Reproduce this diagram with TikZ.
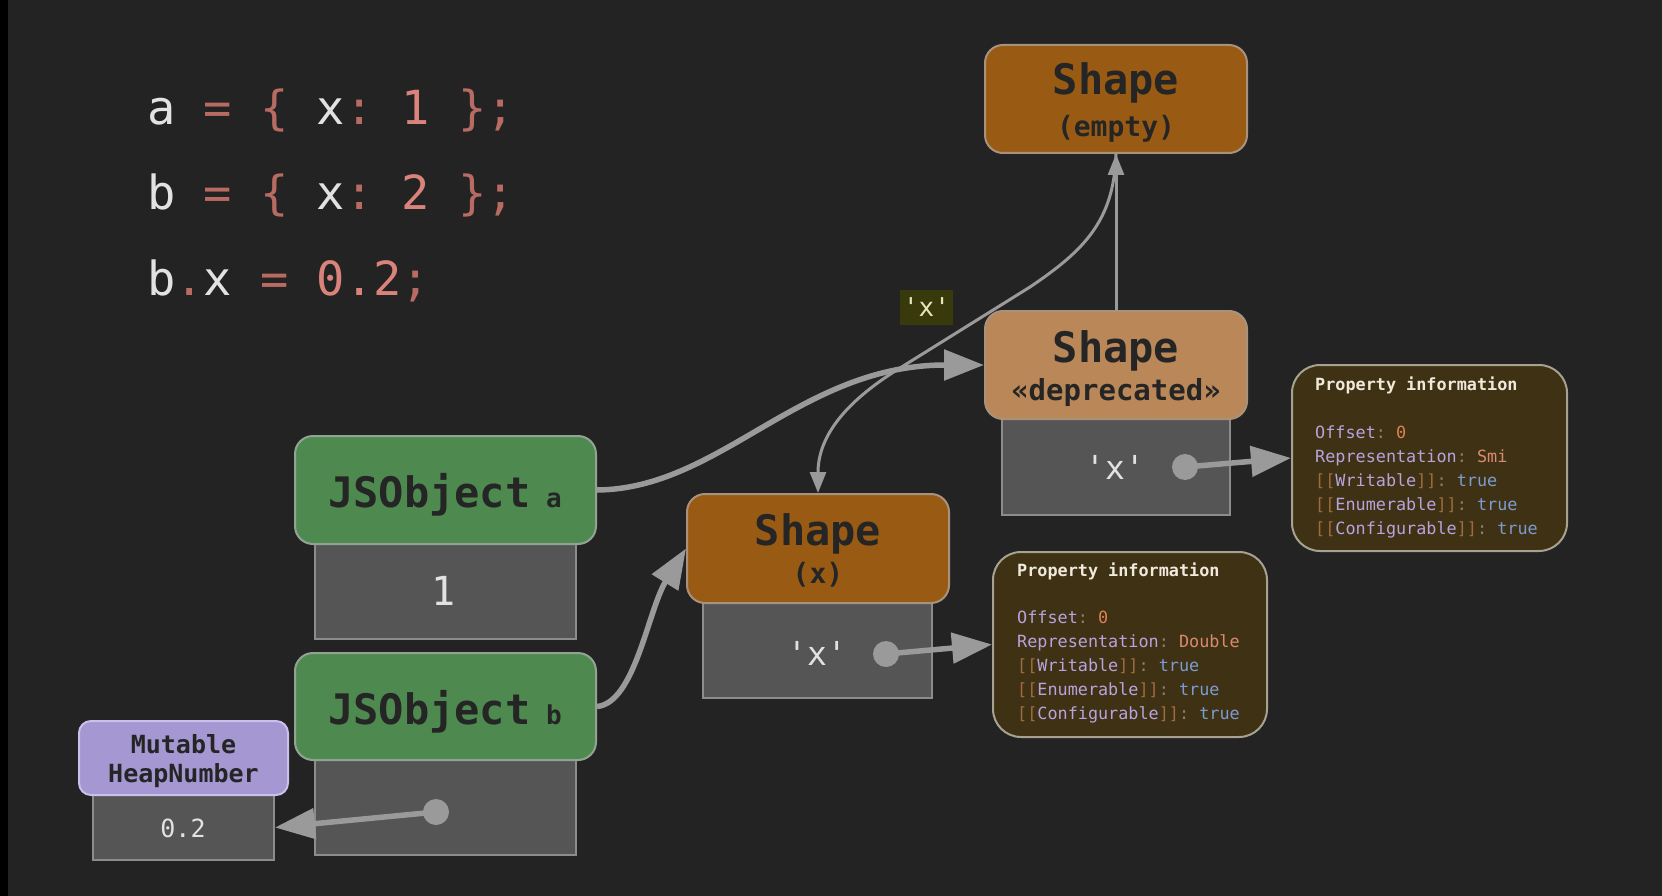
\documentclass[tikz,border=0pt]{standalone}
\usepackage{fontspec}
\setmonofont{DejaVu Sans Mono}
\renewcommand\familydefault{\ttdefault}
\usetikzlibrary{arrows.meta}
\definecolor{bg}{HTML}{232323}
\definecolor{ctext}{HTML}{E2E2E2}
\definecolor{cpunct}{HTML}{B86B62}
\definecolor{cnum}{HTML}{D9837A}
\definecolor{green}{HTML}{4E8A50}
\definecolor{greenb}{HTML}{93A393}
\definecolor{orng}{HTML}{995B14}
\definecolor{orngb}{HTML}{A8927C}
\definecolor{tan}{HTML}{BA8758}
\definecolor{slot}{HTML}{555555}
\definecolor{slotb}{HTML}{8C8C8C}
\definecolor{purp}{HTML}{A597D2}
\definecolor{purpb}{HTML}{C9C0EC}
\definecolor{hdrtext}{HTML}{252525}
\definecolor{arr}{HTML}{9A9A9A}
\definecolor{propf}{HTML}{3F3214}
\definecolor{propb}{HTML}{A6A190}
\definecolor{ptitle}{HTML}{F0EADC}
\definecolor{pkey}{HTML}{B7A3DD}
\definecolor{pcol}{HTML}{8A8070}
\definecolor{pnum}{HTML}{E08055}
\definecolor{prep}{HTML}{D98A70}
\definecolor{pbr}{HTML}{A06A40}
\definecolor{ptrue}{HTML}{7C9BD0}
\definecolor{lblf}{HTML}{383A0C}
\definecolor{lblt}{HTML}{E6E6B8}
\newcommand\myfs[1]{\fontsize{#1}{#1}\selectfont}
\newcommand\cp[1]{\textcolor{cpunct}{#1}}
\newcommand\cn[1]{\textcolor{cnum}{#1}}
\newcommand\pk[1]{\textcolor{pkey}{#1}}
\newcommand\pc[1]{\textcolor{pcol}{#1}}
\newcommand\pb[1]{\textcolor{pbr}{#1}}
\newcommand\ptr[1]{\textcolor{ptrue}{#1}}
\begin{document}
\begin{tikzpicture}[x=1pt,y=-1pt,
  code/.style={text=ctext, inner sep=0, anchor=base west, font=\myfs{47}},
  hdrbox/.style={draw=#1, line width=2pt, rounded corners=18pt, inner sep=0},
  slotbox/.style={fill=slot, draw=slotb, line width=2pt, inner sep=0},
  hdr/.style={text=hdrtext, inner sep=0, anchor=base, font=\bfseries},
  propbox/.style={fill=propf, draw=propb, line width=2pt, rounded corners=28pt, inner sep=0},
  propline/.style={inner sep=0, anchor=base west, font=\myfs{16.8}},
  slottext/.style={text=ctext, inner sep=0},
  fatarrow/.style={draw=arr, line width=5.5pt, -{Triangle[length=40pt,width=30pt]}},
  thinarrow/.style={draw=arr, line width=3pt, -{Triangle[length=21pt,width=16pt]}}
]
\fill[bg] (0,0) rectangle (1662,896);
\fill[black] (0,0) rectangle (8,896);
\useasboundingbox (0,0) rectangle (1662,896);

% code
\node[code] (l1) at (147,125) {a \cp{= \{} x\cp{:} \cn{1} \cp{\};}};
\node[code] (l2) at (147,210) {b \cp{= \{} x\cp{:} \cn{2} \cp{\};}};
\node[code] (l3) at (147,295) {b\cp{.}x \cp{=} \cn{0.2}\cp{;}};

% slot boxes
\node[slotbox, minimum width=261pt, minimum height=95pt] (sa) at (445.5,591.5) {};
\node[slotbox, minimum width=261pt, minimum height=95pt] (sb) at (445.5,807.5) {};
\node[slotbox, minimum width=181pt, minimum height=65pt] (hnv) at (183.5,827.5) {};
\node[slotbox, minimum width=229pt, minimum height=95pt] (sx) at (817.5,650.5) {};
\node[slotbox, minimum width=228pt, minimum height=96pt] (sd) at (1116,467) {};

% header boxes
\node[hdrbox=greenb, fill=green, minimum width=301pt, minimum height=108pt] (ja) at (445.5,490) {};
\node[hdrbox=greenb, fill=green, minimum width=301pt, minimum height=107pt] (jb) at (445.5,706.5) {};
\node[hdrbox=purpb, fill=purp, rounded corners=12pt, minimum width=209pt, minimum height=74pt] (hn) at (183.5,758) {};
\node[hdrbox=orngb, fill=orng, minimum width=262pt, minimum height=109pt] (shx) at (818,548.5) {};
\node[hdrbox=orngb, fill=tan, minimum width=262pt, minimum height=108pt] (depr) at (1116,365) {};
\node[hdrbox=orngb, fill=orng, minimum width=262pt, minimum height=108pt] (empty) at (1116,99) {};

% property boxes
\node[propbox, minimum width=275pt, minimum height=186pt] (pr1) at (1429.5,458) {};
\node[propbox, minimum width=274pt, minimum height=185pt] (pr2) at (1130,644.5) {};

% header texts
\node[hdr] (jaT) at (445,507) {\myfs{42}JSObject\myfs{26}\ a};
\node[hdr] (jbT) at (445,724) {\myfs{42}JSObject\myfs{26}\ b};
\node[hdr] (hnT1) at (183.5,753) {\myfs{25}Mutable};
\node[hdr] (hnT2) at (183.5,782) {\myfs{25}HeapNumber};
\node[hdr] (shxT1) at (818,545) {\myfs{42}Shape};
\node[hdr] (shxT2) at (818,583) {\myfs{28}(x)};
\node[hdr] (deprT1) at (1116,362) {\myfs{42}Shape};
\node[hdr] (deprT2) at (1116,400) {\myfs{29}«deprecated»};
\node[hdr] (emptyT1) at (1116,95) {\myfs{42}Shape};
\node[hdr] (emptyT2) at (1116,137) {\myfs{28}(empty)};

% slot texts
\node[slottext, font=\myfs{40}] (saT) at (444,591) {1};
\node[slottext, font=\myfs{25}] (hnvT) at (183,828) {0.2};
\node[slottext, font=\myfs{33}] (sxT) at (817,653) {'x'};
\node[slottext, font=\myfs{33}] (sdT) at (1115,467) {'x'};

% property texts
\node[propline] (p1t) at (1315,390) {\bfseries\textcolor{ptitle}{Property information}};
\node[propline] (p1a) at (1315,438) {\pk{Offset}\pc{:} \textcolor{pnum}{0}};
\node[propline] (p1b) at (1315,462) {\pk{Representation}\pc{:} \textcolor{prep}{Smi}};
\node[propline] (p1c) at (1315,486) {\pb{[[}\pk{Writable}\pb{]]}\pc{:} \ptr{true}};
\node[propline] (p1d) at (1315,510) {\pb{[[}\pk{Enumerable}\pb{]]}\pc{:} \ptr{true}};
\node[propline] (p1e) at (1315,534) {\pb{[[}\pk{Configurable}\pb{]]}\pc{:} \ptr{true}};
\node[propline] (p2t) at (1017,576) {\bfseries\textcolor{ptitle}{Property information}};
\node[propline] (p2a) at (1017,623) {\pk{Offset}\pc{:} \textcolor{pnum}{0}};
\node[propline] (p2b) at (1017,647) {\pk{Representation}\pc{:} \textcolor{prep}{Double}};
\node[propline] (p2c) at (1017,671) {\pb{[[}\pk{Writable}\pb{]]}\pc{:} \ptr{true}};
\node[propline] (p2d) at (1017,695) {\pb{[[}\pk{Enumerable}\pb{]]}\pc{:} \ptr{true}};
\node[propline] (p2e) at (1017,719) {\pb{[[}\pk{Configurable}\pb{]]}\pc{:} \ptr{true}};

% transition label
\node[fill=lblf, text=lblt, minimum width=53pt, minimum height=35pt, inner sep=0, font=\myfs{26}] (lbl) at (926.5,307.5) {'x'};

% connectors
\coordinate (dotb) at (436,812);
\coordinate (dotx) at (886,654);
\coordinate (dotd) at (1185,467);

\draw[thinarrow] (depr.north) -- (empty.south);
\draw[thinarrow] (empty.south) .. controls (1114,220) and (1085,250) .. (1030,287)
   -- (900,368) .. controls (840,405) and (818,440) .. (shx.north);
\draw[fatarrow] (ja.east) .. controls (720,489) and (800,365) .. (depr.west);
\draw[fatarrow] (jb.east) .. controls (635,703) and (648,610) .. (shx.west);

\fill[arr] (dotb) circle (13);
\fill[arr] (dotx) circle (13);
\fill[arr] (dotd) circle (13);
\draw[fatarrow] (dotb) -- (hnv.east);
\draw[fatarrow] (dotx) -- (pr2.west);
\draw[fatarrow] (dotd) -- (pr1.west);
\end{tikzpicture}
\end{document}
